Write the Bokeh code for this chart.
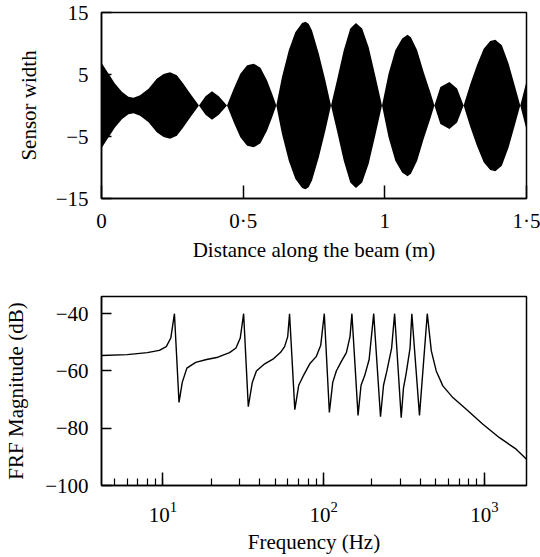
from bokeh.plotting import figure
from bokeh.layouts import column
from bokeh.models import FixedTicker, Range1d, LogTicker
from bokeh.embed import file_html
from bokeh.resources import INLINE

# ---- Top panel: sensor width envelope along the beam ----
dist_m = [0.000, 0.025, 0.048, 0.072, 0.095, 0.113, 0.136, 0.166, 0.195, 0.219,
          0.242, 0.266, 0.289, 0.313, 0.344, 0.367, 0.390, 0.414, 0.443, 0.467,
          0.490, 0.514, 0.537, 0.561, 0.584, 0.602, 0.617, 0.637, 0.661, 0.684,
          0.708, 0.720, 0.731, 0.743, 0.767, 0.790, 0.810, 0.831, 0.855, 0.878,
          0.898, 0.920, 0.943, 0.966, 0.990, 1.013, 1.037, 1.061, 1.080, 1.092,
          1.114, 1.137, 1.160, 1.175, 1.196, 1.228, 1.255, 1.278, 1.302, 1.325,
          1.349, 1.372, 1.390, 1.413, 1.437, 1.460, 1.478, 1.500]
sensor_width = [6.9, 5.14, 3.5, 2.2, 1.4, 1.23, 1.65, 2.7, 4.3, 5.1,
                5.35, 4.87, 3.5, 1.93, 0.0, 1.5, 2.3, 1.5, 0.0, 2.73,
                5.14, 6.48, 6.75, 6.1, 4.07, 1.93, 0.0, 4.6, 8.9, 11.8,
                13.3, 13.5, 13.2, 12.1, 8.36, 4.07, 0.0, 4.07, 8.9, 12.4,
                13.3, 12.4, 9.4, 4.87, 0.0, 5.14, 8.9, 10.8, 11.4, 11.0,
                8.9, 5.4, 2.2, 0.0, 3.0, 3.8, 2.73, 0.0, 3.5, 6.48,
                9.16, 10.4, 10.6, 9.7, 6.75, 3.0, 0.0, 3.9]
top_xticks = [0, 0.5, 1, 1.5]
top_xlabels = ["0", "0·5", "1", "1·5"]
top_yticks = [-15, -5, 5, 15]
top_ylabels = ["\u221215", "\u22125", "5", "15"]

# ---- Bottom panel: FRF magnitude ----
freq_hz = [4.15, 6.0, 8.0, 9.5, 10.5, 11.2, 11.8, 12.6, 13.2, 14.1,
           16.0, 18.7, 22.0, 26.0, 28.5, 30.3, 31.8, 34.0, 36.0, 38.2,
           43.0, 48.4, 54.0, 57.2, 59.8, 61.4, 66.2, 70.0, 74.3, 82.0,
           89.9, 96.0, 101.0, 108.6, 114.0, 120.0, 128.0, 138.6, 146.0, 150.0,
           163.8, 171.0, 180.0, 192.0, 205.0, 226.0, 236.0, 247.6, 265.0, 276.6,
           304.0, 314.0, 326.0, 345.0, 354.0, 395.0, 441.6, 468.0, 502.0, 552.0,
           637.0, 772.0, 980.0, 1242.0, 1578.0, 1830.0]
frf_db = [-54.6, -54.3, -53.6, -52.8, -51.5, -48.5, -40.0, -71.0, -64.0, -59.0,
          -57.0, -56.0, -55.2, -53.6, -52.0, -48.5, -40.0, -72.5, -64.0, -60.0,
          -57.5, -55.9, -53.5, -51.5, -48.0, -40.0, -73.5, -65.0, -62.0, -57.5,
          -55.0, -51.0, -40.0, -74.5, -64.0, -60.0, -57.0, -53.6, -48.0, -40.0,
          -75.5, -65.0, -61.7, -56.0, -40.0, -76.0, -65.0, -60.0, -52.0, -40.0,
          -76.3, -66.0, -61.0, -52.0, -40.0, -75.5, -40.0, -53.0, -60.0, -65.2,
          -69.3, -73.4, -78.6, -83.3, -87.3, -90.8]
bot_yticks = [-100, -80, -60, -40]
bot_ylabels = ["\u2212100", "\u221280", "\u221260", "\u221240"]

FONT = "'Liberation Serif', 'Times New Roman', serif"
FS = "21px"


def style(p):
    p.xgrid.visible = False
    p.ygrid.visible = False
    p.outline_line_color = "black"
    p.outline_line_width = 1.5
    p.outline_line_alpha = 1.0
    p.background_fill_color = "white"
    p.border_fill_color = "white"
    for ax in (p.xaxis[0], p.yaxis[0]):
        ax.axis_line_color = "black"
        ax.axis_line_width = 1.5
        ax.major_tick_line_color = "black"
        ax.major_tick_line_width = 1.5
        ax.minor_tick_line_color = "black"
        ax.minor_tick_line_width = 1.2
        ax.major_tick_out = 0
        ax.minor_tick_out = 0
        ax.major_label_text_font = FONT
        ax.major_label_text_font_size = FS
        ax.major_label_text_color = "black"
        ax.axis_label_text_font = FONT
        ax.axis_label_text_font_size = FS
        ax.axis_label_text_font_style = "normal"
        ax.axis_label_text_color = "black"
        ax.major_label_standoff = 10
        ax.axis_label_standoff = 12
    p.yaxis.major_label_standoff = 13


# Top figure
p1 = figure(width=540, height=280, output_backend="svg", toolbar_location=None,
            x_range=Range1d(0, 1.5), y_range=Range1d(-15, 15),
            min_border_left=101, min_border_right=14,
            min_border_top=12, min_border_bottom=82)
style(p1)
neg_width = [-v for v in sensor_width]
p1.varea(x=dist_m, y1=neg_width, y2=sensor_width, fill_color="black")
p1.xaxis.ticker = FixedTicker(ticks=top_xticks, minor_ticks=[])
p1.xaxis.major_label_overrides = {t: l for t, l in zip(top_xticks, top_xlabels)}
p1.yaxis.ticker = FixedTicker(ticks=top_yticks, minor_ticks=[])
p1.yaxis.major_label_overrides = {t: l for t, l in zip(top_yticks, top_ylabels)}
p1.xaxis.major_tick_in = 13
p1.yaxis.major_tick_in = 10
p1.xaxis.axis_label_standoff = 2
p1.xaxis.axis_label = "Distance along the beam (m)"
p1.yaxis.axis_label = "Sensor width"

# Bottom figure
p2 = figure(width=540, height=277, output_backend="svg", toolbar_location=None,
            x_axis_type="log",
            x_range=Range1d(4.15, 1830), y_range=Range1d(-100, -34),
            min_border_left=101, min_border_right=14,
            min_border_top=16, min_border_bottom=72)
style(p2)
p2.line(x=freq_hz, y=frf_db, line_color="black", line_width=1.4)
p2.xaxis.ticker = LogTicker(num_minor_ticks=10)
p2.xaxis.major_tick_in = 13
p2.xaxis.minor_tick_in = 7
p2.xaxis.major_label_standoff = 16
p2.xaxis.axis_label_standoff = 5
p2.yaxis.ticker = FixedTicker(ticks=bot_yticks, minor_ticks=[])
p2.yaxis.major_label_overrides = {t: l for t, l in zip(bot_yticks, bot_ylabels)}
p2.yaxis.major_tick_in = 10
p2.yaxis.axis_label_standoff = 14
p2.xaxis.axis_label = "Frequency (Hz)"
p2.yaxis.axis_label = "FRF Magnitude (dB)"

layout = column(p1, p2, spacing=0)
open("out.html", "w").write(file_html(layout, INLINE))
